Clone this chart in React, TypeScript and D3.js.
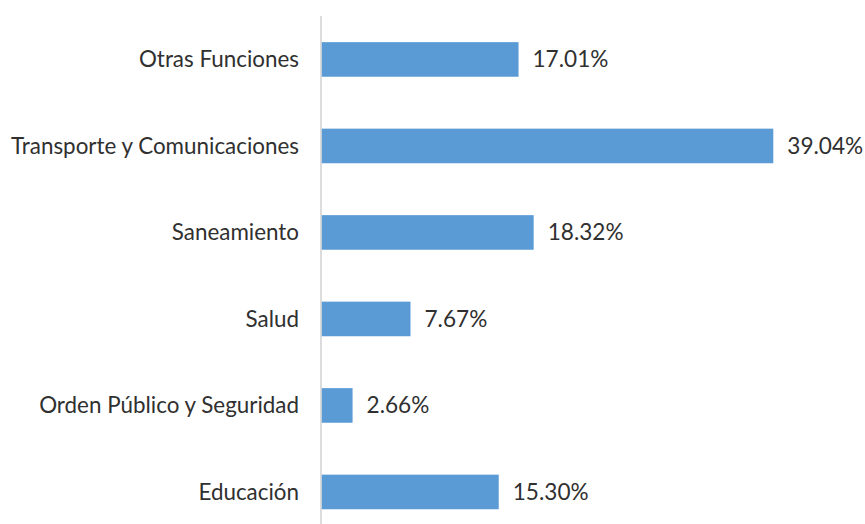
import React from "react";
import * as d3 from "d3";

const categories = [
  "Otras Funciones",
  "Transporte y Comunicaciones",
  "Saneamiento",
  "Salud",
  "Orden Público y Seguridad",
  "Educación",
];
const values = [17.01, 39.04, 18.32, 7.67, 2.66, 15.3];
const valueLabels = ["17.01%", "39.04%", "18.32%", "7.67%", "2.66%", "15.30%"];

const W = 865;
const H = 524;
const x0 = 321.8;

export default function App() {
  const x = d3.scaleLinear().domain([0, 39.04]).range([x0, 773.3]);
  const y = d3
    .scaleBand<string>()
    .domain(categories)
    .range([16.2, 535.2])
    .paddingInner(0.6)
    .paddingOuter(0.3);
  const font = "Lato, 'Open Sans', sans-serif";
  return (
    <svg
      width={W}
      height={H}
      style={{ position: "absolute", left: 0, top: 0, background: "#fff" }}
    >
      <line x1={x0 - 0.8} x2={x0 - 0.8} y1={16} y2={H} stroke="#d0d0d0" strokeWidth={1.5} />
      {categories.map((c, i) => {
        const yy = y(c)!;
        const bh = y.bandwidth();
        return (
          <g key={c}>
            <rect x={x(0)} y={yy} width={x(values[i]) - x(0)} height={bh} fill="#5b9bd5" />
            <text
              x={299}
              y={yy + bh / 2}
              dy="0.35em"
              textAnchor="end"
              fontFamily={font}
              fontSize={22.4}
              fill="#303030"
            >
              {c}
            </text>
            <text
              x={x(values[i]) + 14}
              y={yy + bh / 2}
              dy="0.35em"
              fontFamily={font}
              fontSize={22.6}
              fill="#303030"
            >
              {valueLabels[i]}
            </text>
          </g>
        );
      })}
    </svg>
  );
}
